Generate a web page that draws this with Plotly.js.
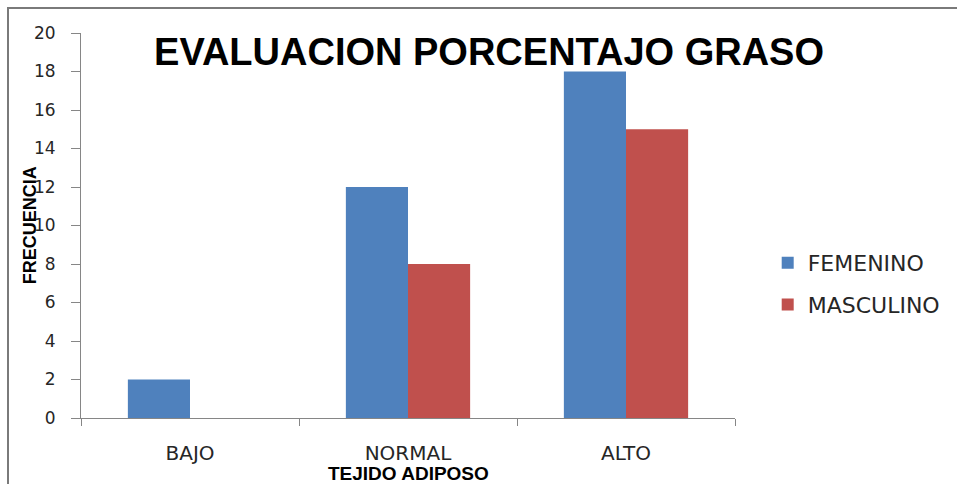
<!DOCTYPE html>
<html>
<head>
<meta charset="utf-8">
<script src="https://cdn.plot.ly/plotly-3.0.1.min.js"></script>
<style>
html,body{margin:0;padding:0;background:#fff;overflow:hidden;width:957px;height:484px;}
#topline{position:absolute;left:7px;top:7px;width:950px;height:2px;background:#7a7a7a;z-index:10;}
#leftline{position:absolute;left:7px;top:7px;width:2px;height:477px;background:#7a7a7a;z-index:10;}
</style>
</head>
<body>
<div id="chart" style="position:absolute;left:0;top:0;width:957px;height:484px;"></div>
<div id="topline"></div>
<div id="leftline"></div>
<script>
const categories = ["BAJO", "NORMAL", "ALTO"];
const femenino = [2, 12, 18];
const masculino = [0, 8, 15];
const seriesNames = ["FEMENINO", "MASCULINO"];
const yTicks = [0, 2, 4, 6, 8, 10, 12, 14, 16, 18, 20];

const traces = [
  {type: "bar", name: seriesNames[0], x: categories, y: femenino,
   marker: {color: "#4F81BD"}, legendgroup: "a"},
  {type: "bar", name: seriesNames[1], x: categories, y: masculino,
   marker: {color: "#C0504D"}, legendgroup: "b"}
];

const layout = {
  width: 957, height: 484,
  margin: {l: 81, r: 222, t: 33, b: 66},
  paper_bgcolor: "rgba(0,0,0,0)", plot_bgcolor: "rgba(0,0,0,0)",
  bargap: 0.43, bargroupgap: 0,
  barmode: "group",
  title: {text: "EVALUACION PORCENTAJO GRASO", x: 0.511, xanchor: "center", y: 0.893, yanchor: "middle",
          font: {family: "Liberation Sans", size: 38, color: "#000", weight: "bold"}},
  xaxis: {
    type: "category", showline: true, linecolor: "#868686", linewidth: 1,
    ticks: "outside", tickson: "boundaries", ticklen: 7, tickcolor: "#868686",
    ticklabelstandoff: 17,
    tickfont: {family: "DejaVu Sans", size: 20, color: "#262626"},
    showgrid: false, zeroline: false
  },
  yaxis: {
    range: [0, 20], tickvals: yTicks, showline: true, linecolor: "#868686", linewidth: 1,
    ticks: "outside", ticklen: 9, tickcolor: "#868686",
    ticklabelstandoff: 12,
    tickfont: {family: "DejaVu Sans", size: 17, color: "#262626"},
    showgrid: false, zeroline: false
  },
  showlegend: true,
  legend: {x: 1.05, xanchor: "left", y: 0.348, yanchor: "middle",
           font: {family: "DejaVu Sans", size: 22, color: "#262626"},
           tracegroupgap: 10, bgcolor: "rgba(0,0,0,0)"},
  annotations: [
    {text: "FRECUENCIA", xref: "paper", yref: "paper", x: -0.0782, y: 0.5, xanchor: "center", yanchor: "middle",
     textangle: -90, showarrow: false, font: {family: "Liberation Sans", size: 18, color: "#000", weight: "bold"}},
    {text: "TEJIDO ADIPOSO", xref: "paper", yref: "paper", x: 0.5, y: -0.145, xanchor: "center", yanchor: "middle",
     showarrow: false, font: {family: "Liberation Sans", size: 19, color: "#000", weight: "bold"}}
  ]
};

Plotly.newPlot("chart", traces, layout, {displayModeBar: false, staticPlot: true});
</script>
</body>
</html>
